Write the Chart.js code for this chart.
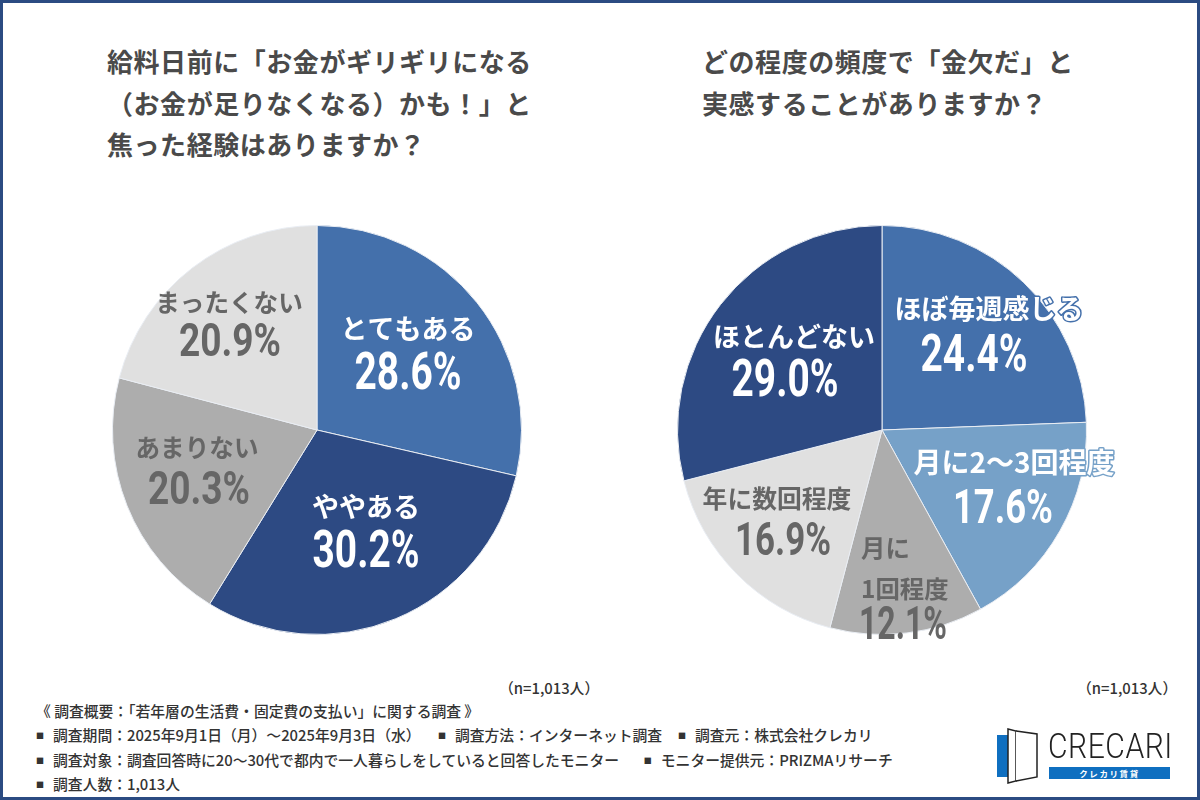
<!DOCTYPE html>
<html lang="ja">
<head>
<meta charset="utf-8">
<script src="https://cdn.jsdelivr.net/npm/chart.js@4"></script>
<style>
  html, body { margin: 0; padding: 0; background: #fff; }
  body { width: 1200px; height: 800px; position: relative; overflow: hidden;
         font-family: "Noto Sans CJK JP", sans-serif; }
  #frame { position: absolute; left: 0; top: 0; width: 1194px; height: 794px; border: 3px solid #2b4b82; }
  canvas { position: absolute; }
  .title { position: absolute; font-size: 26px; line-height: 41.5px; font-weight: 700; color: #4a4a4a; white-space: nowrap; letter-spacing: 0.55px; }
  .n { position: absolute; top: 677px; font-size: 14.8px; font-weight: 500; color: #333; white-space: nowrap; }
  .note { position: absolute; left: 36px; font-size: 14.8px; font-weight: 500; color: #333; white-space: pre; }
  .note b { font-size: 8px; font-weight: 400; vertical-align: 2px; margin-right: 9px; }
  .note b.gap { margin-left: 10px; }
  .note b.gap2 { margin-left: 1px; }
  #logo-text { position: absolute; left: 1048px; top: 729px; font: 300 35px/35px "Roboto", sans-serif; color: #222; letter-spacing: 0.6px; transform: scaleX(0.86); transform-origin: left top; white-space: nowrap; }
  #logo-bar { position: absolute; left: 997px; top: 735px; width: 11px; height: 42px; background: #0f6fc0; }
  #logo-band { position: absolute; left: 1049px; top: 767px; width: 121px; height: 12px; background: #0f6fc0; color: #fff; font-size: 8.5px; line-height: 12px; font-weight: 700; text-align: center; letter-spacing: 1.6px; }
  svg { position: absolute; left: 0; top: 0; }
</style>
</head>
<body>
<div id="frame"></div>

<div class="title" style="left:107px;top:40px;">給料日前に「お金がギリギリになる<br>（お金が足りなくなる）かも！」と<br>焦った経験はありますか？</div>
<div class="title" style="left:702px;top:40px;">どの程度の頻度で「金欠だ」と<br>実感することがありますか？</div>

<canvas id="pieLeft" width="560" height="480" style="left:37px;top:190px;width:560px;height:480px;"></canvas>
<canvas id="pieRight" width="560" height="480" style="left:602px;top:190px;width:560px;height:480px;"></canvas>

<div class="n" style="left:499px;">（n=1,013人）</div>
<div class="n" style="left:1077px;">（n=1,013人）</div>

<div class="note" style="top:700px;">《 調査概要：「若年層の生活費・固定費の支払い」に関する調査 》</div>
<div class="note" style="top:724px;"><b>■</b>調査期間：2025年9月1日（月）～2025年9月3日（水）　<b class="gap">■</b>調査方法：インターネット調査　<b class="gap2">■</b>調査元：株式会社クレカリ</div>
<div class="note" style="top:749px;"><b>■</b>調査対象：調査回答時に20～30代で都内で一人暮らしをしていると回答したモニター　<b class="gap">■</b>モニター提供元：PRIZMAリサーチ</div>
<div class="note" style="top:773px;"><b>■</b>調査人数：1,013人</div>

<div id="logo-bar"></div>
<svg width="1200" height="800">
  <path d="M1008 729 L1016 731 L1016 781 L1008 783 Z" fill="#fff" stroke="#222" stroke-width="1.5"/>
  <path d="M1016 731 L1037 734 L1037 777 L1016 781" fill="#fff" stroke="#222" stroke-width="1.5"/>
</svg>
<div id="logo-text">CRECARI</div>
<div id="logo-band">クレカリ賃貸</div>

<script>
const leftCategories = ["とてもある", "ややある", "あまりない", "まったくない"];
const leftValues = [28.6, 30.2, 20.3, 20.9];
const leftColors = ["#4470ab", "#2d4a83", "#adadad", "#e0e0e0"];

const rightCategories = ["ほぼ毎週感じる", "月に2～3回程度", "月に\n1回程度", "年に数回程度", "ほとんどない"];
const rightValues = [24.4, 17.6, 12.1, 16.9, 29.0];
const rightColors = ["#4470ab", "#76a1c8", "#adadad", "#e0e0e0", "#2d4a83"];

const WHITE = "#ffffff";
const GRAY = "#666666";

// label placement, offsets from pie centre (name x, name y, pct x, pct y, name px, pct width, pct px, text colour, outline)
const leftPlace = [
  [91, -101, 91, -54, 27, 107, 51, WHITE],
  [49, 77, 49, 124, 27, 107, 51, WHITE],
  [-120, 18, -118, 62, 24.6, 102, 47, GRAY],
  [-88, -127, -87, -86, 24.6, 102, 47, GRAY]
];
const rightPlace = [
  [107, -121, 92, -72, 27, 107, 51, WHITE, "#4470ab"],
  [132, 32, 121, 81, 28, 100, 49, WHITE, "#76a1c8"],
  [-21, 118, 21, 197, 24.4, 88, 46, GRAY],
  [-105, 69, -99, 113, 24.8, 96, 46, GRAY],
  [-88, -93, -97, -47, 27, 107, 51, WHITE]
];

const labelPlugin = {
  id: "sliceLabels",
  afterDraw(chart, args, opts) {
    const ctx = chart.ctx;
    const arc = chart.getDatasetMeta(0).data[0];
    const cx = arc.x, cy = arc.y;
    const values = chart.data.datasets[0].data;
    chart.data.labels.forEach((name, i) => {
      const p = opts.place[i];
      ctx.save();
      ctx.textAlign = "center";
      ctx.textBaseline = "middle";
      ctx.fillStyle = p[7];
      ctx.font = "700 " + p[4] + "px 'Noto Sans CJK JP'";
      ctx.lineJoin = "round";
      const lines = name.split("\n");
      lines.forEach((ln, k) => {
        const x = cx + p[0], y = cy + p[1] + k * 41;
        if (lines.length > 1) ctx.textAlign = "left";
        if (p[8]) { ctx.strokeStyle = p[8]; ctx.lineWidth = 3; ctx.strokeText(ln, x, y); }
        ctx.fillText(ln, x, y);
      });
      // percent figure, narrowed to look like the condensed face in the picture
      const txt = values[i].toFixed(1) + "%";
      ctx.textAlign = "center";
      ctx.font = "700 " + p[6] + "px Roboto";
      const w = ctx.measureText(txt).width;
      ctx.translate(cx + p[2], cy + p[3]);
      ctx.scale(p[5] / w, 1);
      ctx.fillText(txt, 0, 0);
      ctx.restore();
    });
  }
};

function makePie(id, labels, values, colors, place) {
  new Chart(document.getElementById(id).getContext("2d"), {
    type: "pie",
    data: {
      labels: labels,
      datasets: [{ data: values, backgroundColor: colors, borderColor: "#e9edf3", borderWidth: 1 }]
    },
    options: {
      responsive: false,
      animation: false,
      layout: { padding: 35 },
      plugins: {
        legend: { display: false },
        tooltip: { enabled: false },
        sliceLabels: { place: place }
      }
    },
    plugins: [labelPlugin]
  });
}

document.fonts.load("700 26px 'Noto Sans CJK JP'").then(() => document.fonts.load("700 40px Roboto")).finally(() => {
  makePie("pieLeft", leftCategories, leftValues, leftColors, leftPlace);
  makePie("pieRight", rightCategories, rightValues, rightColors, rightPlace);
});
</script>
</body>
</html>
